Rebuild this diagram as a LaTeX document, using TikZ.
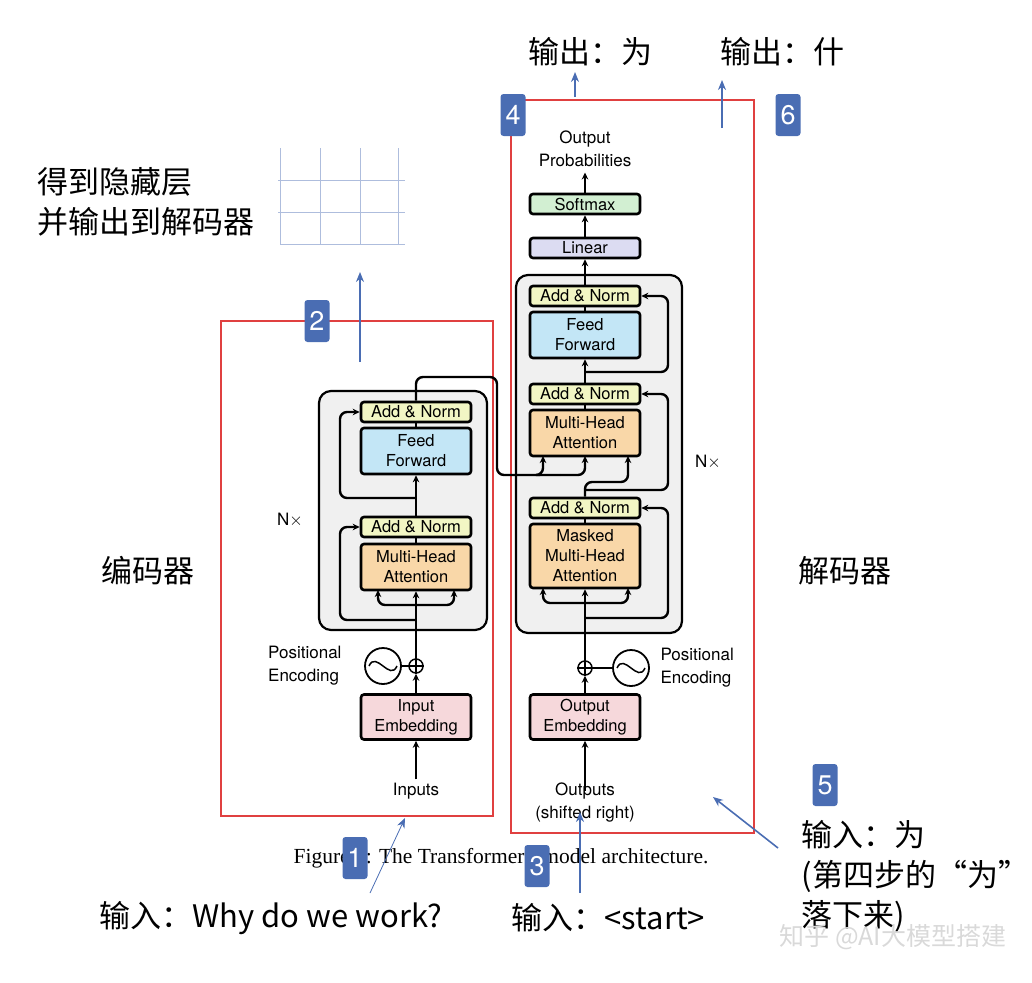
\documentclass[tikz,border=0pt]{standalone}
\usepackage{fontspec}
\setsansfont{TeX Gyre Heros}
\setmainfont{Liberation Serif}
\newfontfamily\cjk{Noto Sans CJK SC}
\usetikzlibrary{arrows.meta,positioning}
\definecolor{normc}{HTML}{F2F6C4}
\definecolor{ffc}{HTML}{C3E6F6}
\definecolor{attc}{HTML}{F9D7A8}
\definecolor{embc}{HTML}{F6D8DB}
\definecolor{linc}{HTML}{DCDCF2}
\definecolor{softc}{HTML}{D2EFD2}
\definecolor{badge}{HTML}{4A6DB3}
\definecolor{frame}{HTML}{E04040}
\tikzset{
  block/.style={draw,line width=2.6pt,rounded corners=3pt,minimum width=110pt,
    align=center,font=\sffamily\fontsize{16.5}{20}\selectfont,inner sep=1pt},
  norm/.style={block,fill=normc,minimum height=20pt},
  ff/.style={block,fill=ffc,minimum height=46pt},
  att/.style={block,fill=attc,minimum height=46pt},
  emb/.style={block,fill=embc,minimum height=45pt},
  lbl/.style={font=\sffamily\fontsize{17}{23}\selectfont,align=center},
  cn/.style={font=\cjk\fontsize{31}{40}\selectfont,anchor=west,align=left},
  num/.style={fill=badge,text=white,rounded corners=3pt,minimum width=25pt,
    minimum height=42pt,font=\sffamily\fontsize{27}{27}\selectfont,inner sep=0pt},
  flow/.style={line width=2.4pt,-{Stealth[length=7pt,width=6.5pt]}},
  wire/.style={line width=2.4pt},
  res/.style={flow,rounded corners=7pt},
  blue/.style={draw=badge,line width=1.6pt,-{Stealth[length=10pt,width=8pt]}}
}
\begin{document}
\begin{tikzpicture}[x=1pt,y=-1pt]
\useasboundingbox (0,0) rectangle (1032,982);
% red frames and gray stacks
\draw[frame,line width=1.6pt] (221,321) rectangle (493,816);
\draw[frame,line width=1.6pt] (511,100) rectangle (754,833);
\draw[line width=2.2pt,fill=black!6,rounded corners=12pt] (319,391) rectangle (487,630);
\draw[line width=2.2pt,fill=black!6,rounded corners=12pt] (516,275) rectangle (682,633);

% encoder
\node[norm] (en2) at (416,412) {Add \& Norm};
\node[ff] (eff) at (416,451) {Feed\\Forward};
\node[norm] (en1) at (416,527) {Add \& Norm};
\node[att] (emha) at (416,567) {Multi-Head\\Attention};
\node[emb] (eemb) at (416,717) {Input\\Embedding};
\node[lbl] (ein) at (416,791) {Inputs};
\node[circle,draw,line width=1.5pt,minimum size=14pt,inner sep=0pt] (eplus) at (416,666) {};
\draw[line width=1.2pt] (eplus.north)--(eplus.south) (eplus.west)--(eplus.east);
\node[circle,draw,line width=1.8pt,minimum size=36pt] (esin) at (383,666) {};
\draw[line width=1.5pt] ([xshift=-14pt]esin.center) .. controls (376,650) and (390,682) .. ([xshift=14pt]esin.center);
\node[lbl,align=left,anchor=east] (epe) at (345,666) {Positional\\Encoding};
\node[lbl] (enx) at (290,520) {N$\times$};

\draw[flow] (ein.north) -- (eemb.south);
\draw[flow] (eemb.north) -- (eplus.south);
\draw[wire] (esin.east) -- (eplus.west);
\draw[flow] (eplus.north) -- (emha.south);
\draw[res] (416,605) -| (378,590);
\draw[res] (416,605) -| (454,590);
\draw[res] (416,620) -| (340,527) -- (en1.west);
\draw[wire] (emha.north) -- (en1.south);
\draw[flow] (en1.north) -- (eff.south);
\draw[res] (416,498) -| (340,412) -- (en2.west);
\draw[wire] (eff.north) -- (en2.south);
\draw[wire,rounded corners=7pt] (en2.north) |- (497,377) |- (560,475);

% decoder
\node[norm] (dn3) at (585,296) {Add \& Norm};
\node[ff] (dff) at (585,335) {Feed\\Forward};
\node[norm] (dn2) at (585,394) {Add \& Norm};
\node[att] (dmha) at (585,433) {Multi-Head\\Attention};
\node[norm] (dn1) at (585,508) {Add \& Norm};
\node[att,minimum height=64pt] (dmask) at (585,556) {Masked\\Multi-Head\\Attention};
\node[emb] (demb) at (585,717) {Output\\Embedding};
\node[lbl] (dout) at (585,802) {Outputs\\(shifted right)};
\node[block,fill=linc,minimum height=20pt] (dlin) at (585,248) {Linear};
\node[block,fill=softc,minimum height=20pt] (dsoft) at (585,204) {Softmax};
\node[lbl] (dprob) at (585,149) {Output\\Probabilities};
\node[circle,draw,line width=1.5pt,minimum size=14pt,inner sep=0pt] (dplus) at (585,668) {};
\draw[line width=1.2pt] (dplus.north)--(dplus.south) (dplus.west)--(dplus.east);
\node[circle,draw,line width=1.8pt,minimum size=36pt] (dsin) at (631,668) {};
\draw[line width=1.5pt] ([xshift=-14pt]dsin.center) .. controls (624,652) and (638,684) .. ([xshift=14pt]dsin.center);
\node[lbl,align=left,anchor=west] (dpe) at (657,668) {Positional\\Encoding};
\node[lbl] (dnx) at (708,462) {N$\times$};

\draw[flow] ([yshift=-12pt]dout.north) -- (demb.south);
\draw[flow] (demb.north) -- (dplus.south);
\draw[wire] (dsin.west) -- (dplus.east);
\draw[flow] (dplus.north) -- (dmask.south);
\draw[res] (585,603) -| (543,588);
\draw[res] (585,603) -| (628,588);
\draw[res] (585,618) -| (668,508) -- (dn1.east);
\draw[wire] (dmask.north) -- (dn1.south);
\draw[res] (dn1.north) |- (628,482) -- (628,456);
\draw[res] (585,490) -| (668,394) -- (dn2.east);
\draw[res] (540,475) -| (543,456);
\draw[res] (560,475) -| (585,456);
\draw[wire] (dmha.north) -- (dn2.south);
\draw[flow] (dn2.north) -- (dff.south);
\draw[res] (585,372) -| (668,296) -- (dn3.east);
\draw[wire] (dff.north) -- (dn3.south);
\draw[flow] (dn3.north) -- (dlin.south);
\draw[flow] (dlin.north) -- (dsoft.south);
\draw[flow] (dsoft.north) -- ([yshift=-2pt]dprob.south);

% caption
\node[font=\fontsize{21.5}{22}\selectfont] (cap) at (501,858) {Figure 1: The Transformer - model architecture.};

% hidden-state grid
\draw[draw=badge!45,line width=1pt] (280,148) -- (280,244) (320,148) -- (320,244) (360,148) -- (360,244)
  (398,148) -- (398,244) (278,180) -- (405,180) (278,212) -- (405,212) (280,244) -- (405,244);

% blue arrows
\coordinate (a1s) at (370,893); \coordinate (a1e) at (405,818);
\coordinate (a2s) at (360,362); \coordinate (a2e) at (360,272);
\coordinate (a3s) at (580,893); \coordinate (a3e) at (580,812);
\coordinate (a4s) at (575,97);  \coordinate (a4e) at (575,72);
\coordinate (a5s) at (778,848); \coordinate (a5e) at (713,797);
\coordinate (a6s) at (722,128); \coordinate (a6e) at (722,80);
\draw[blue,line width=0.8pt] (a1s) -- (a1e);
\foreach \k in {2,...,6} \draw[blue] (a\k s) -- (a\k e);

% badges
\node[num] (b1) at (355,858) {1};
\node[num] (b2) at (317,321) {2};
\node[num] (b3) at (537,866) {3};
\node[num] (b4) at (513,115) {4};
\node[num] (b5) at (825,785) {5};
\node[num] (b6) at (788,115) {6};

% chinese notes
\node[cn,anchor=center] (o1) at (590,52) {输出：为};
\node[cn,anchor=center] (o2) at (782,52) {输出：什};
\node[cn] (hid) at (34,202) {得到隐藏层\\并输出到解码器};
\node[cn,anchor=center] (enc) at (148,571) {编码器};
\node[cn,anchor=center] (dec) at (845,571) {解码器};
\node[cn] (i1) at (96,918) {输入：Why do we work?};
\node[cn] (i3) at (508,918) {输入：<start>};
\node[cn] (i5) at (798,876) {输入：为\\(第四步的“为”\\落下来)};
\node[cn,text=black!15,font=\cjk\fontsize{25}{30}\selectfont] (wm) at (776,937) {知乎 @AI大模型搭建};
\end{tikzpicture}
\end{document}
